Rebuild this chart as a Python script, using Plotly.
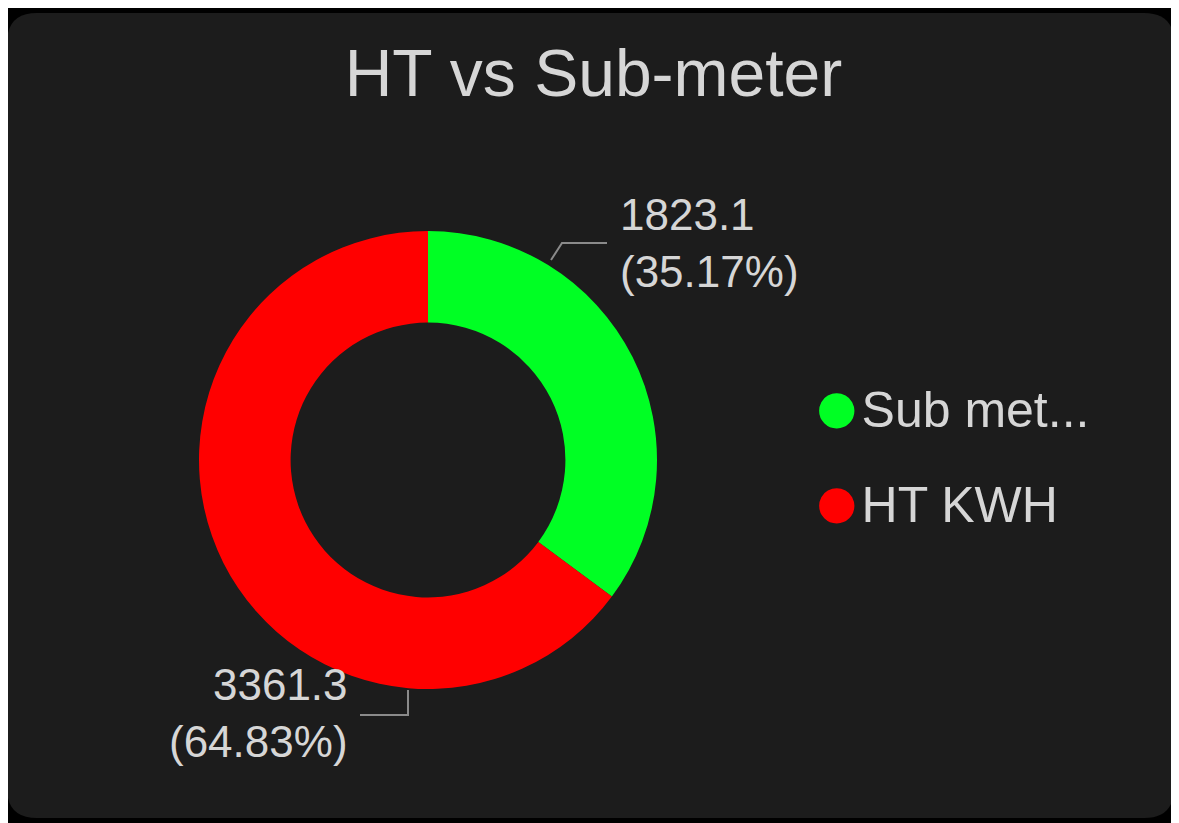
import plotly.graph_objects as go

# the page puts the figure 8px in from the top-left corner
OFF = 8
W, H = 1179 - OFF, 823 - OFF

labels = ["Sub met...", "HT KWH"]
values = [1823.1, 3361.3]
colors = ["#00ff24", "#ff0000"]
title_text = "HT vs Sub-meter"

BG = "#000000"
CARD = "#1c1c1c"
TXT = "#d6d6d6"
LEADER = "#8a8a8a"
FONT = "Liberation Sans, Arial, sans-serif"


def px(x, y):
    # screenshot pixel -> paper coords
    return (x - OFF) / W, 1 - (y - OFF) / H


def rounded_rect(x0, y0, x1, y1, r):
    seq = [("M", [(x0 + r, y0)]), ("L", [(x1 - r, y0)]), ("Q", [(x1, y0), (x1, y0 + r)]),
           ("L", [(x1, y1 - r)]), ("Q", [(x1, y1), (x1 - r, y1)]),
           ("L", [(x0 + r, y1)]), ("Q", [(x0, y1), (x0, y1 - r)]),
           ("L", [(x0, y0 + r)]), ("Q", [(x0, y0), (x0 + r, y0)])]
    out = []
    for cmd, pts in seq:
        out.append(cmd + " " + " ".join("%f,%f" % px(*p) for p in pts))
    return " ".join(out) + " Z"


def polyline(pts):
    return "M " + " L ".join("%f,%f" % px(*p) for p in pts)


total = sum(values)
label_text = [f"{v:.1f}<br>({v / total * 100:.2f}%)" for v in values]

fig = go.Figure()

cx0, cx1 = px(428 - 229, 0)[0], px(428 + 229, 0)[0]
cy1, cy0 = px(0, 460 - 229)[1], px(0, 460 + 229)[1]

fig.add_trace(go.Pie(
    labels=labels,
    values=values,
    hole=0.6,
    sort=False,
    direction="clockwise",
    rotation=0,
    marker=dict(colors=colors, line=dict(width=0)),
    textinfo="none",
    showlegend=False,
    domain=dict(x=[cx0, cx1], y=[cy0, cy1]),
    hovertemplate="%{label}: %{value}<extra></extra>",
))

# legend with round markers
for i, (lab, col) in enumerate(zip(labels, colors)):
    fig.add_scatter(
        x=[None], y=[None], mode="markers", legendgroup=str(i),
        name=f"<span style='color:{col};font-size:82px;baseline-shift:-7px'>●</span>{lab}",
        marker=dict(color="rgba(0,0,0,0)", size=2),
    )

fig.add_shape(type="path", xref="paper", yref="paper",
              path=rounded_rect(7, 13, 1174, 818, 30),
              fillcolor=CARD, line=dict(width=0), layer="below")

# data labels with leader lines
fig.add_shape(type="path", xref="paper", yref="paper",
              path=polyline([(551, 260), (562, 243), (607, 243)]),
              line=dict(color=LEADER, width=2))
fig.add_shape(type="path", xref="paper", yref="paper",
              path=polyline([(408, 690), (408, 715), (360, 715)]),
              line=dict(color=LEADER, width=2))

gx, gy = px(618, 243)
rx, ry = px(350, 713)
fig.add_annotation(x=gx, y=gy, xref="paper", yref="paper", text=label_text[0],
                   showarrow=False, xanchor="left", yanchor="middle", align="left",
                   font=dict(size=44, color=TXT, family=FONT))
fig.add_annotation(x=rx, y=ry, xref="paper", yref="paper", text=label_text[1],
                   showarrow=False, xanchor="right", yanchor="middle", align="right",
                   font=dict(size=44, color=TXT, family=FONT))

lx, ly = px(772, 368)
fig.update_layout(
    width=W, height=H,
    paper_bgcolor=BG, plot_bgcolor="rgba(0,0,0,0)",
    margin=dict(l=0, r=0, t=0, b=0),
    font=dict(family=FONT, color=TXT),
    title=dict(text=title_text, x=0.5, xanchor="center", y=px(0, 73)[1], yanchor="middle",
               font=dict(size=66, color=TXT, family=FONT)),
    xaxis=dict(visible=False), yaxis=dict(visible=False),
    showlegend=True,
    legend=dict(x=lx, y=ly, xanchor="left", yanchor="top",
                font=dict(size=50, color=TXT, family=FONT),
                bgcolor="rgba(0,0,0,0)", tracegroupgap=27, itemwidth=30),
)

fig.write_html("out.html")
